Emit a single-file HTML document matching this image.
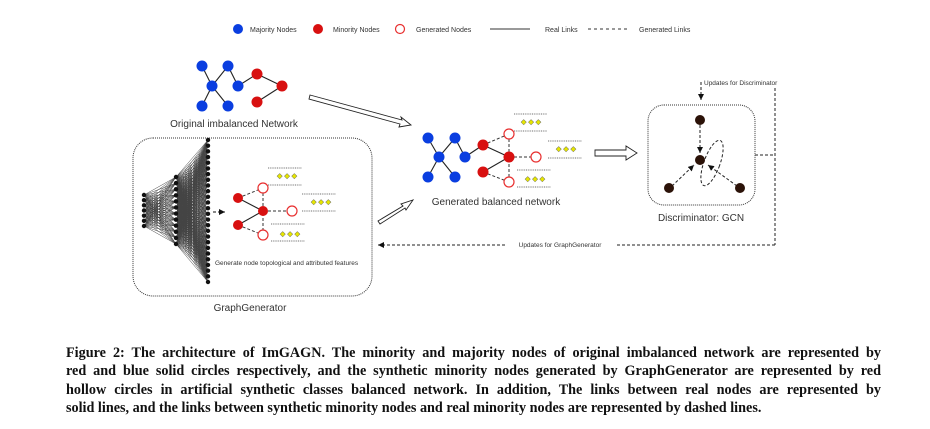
<!DOCTYPE html>
<html><head><meta charset="utf-8"><style>
body{margin:0;background:#fff;width:930px;height:429px;overflow:hidden;position:relative}
svg{position:absolute;left:0;top:0}
.cap{position:absolute;left:66px;width:815px;top:344px;font-family:"Liberation Serif",serif;font-weight:bold;font-size:14.2px;color:#111}
.cap div{height:18.3px;line-height:18.3px;text-align:justify;text-align-last:justify;white-space:nowrap}
</style></head><body>
<svg id="s" width="930" height="429" font-family="Liberation Sans, sans-serif">
<defs><marker id="ah" markerWidth="8" markerHeight="8" refX="6" refY="3" orient="auto"><path d="M0,0 L6,3 L0,6 z" fill="#111"/></marker></defs>
<g font-size="7" fill="#333">
<circle cx="238" cy="29" r="5" fill="#0a3ee0"/><text x="250" y="32">Majority Nodes</text>
<circle cx="318" cy="29" r="5" fill="#d81010"/><text x="333" y="32">Minority Nodes</text>
<circle cx="400" cy="29" r="4.5" fill="#fff" stroke="#e83030" stroke-width="1.2"/><text x="416" y="32">Generated Nodes</text>
<line x1="490" y1="29" x2="530" y2="29" stroke="#333" stroke-width="1"/><text x="545" y="32">Real Links</text>
<line x1="588" y1="29" x2="628" y2="29" stroke="#333" stroke-dasharray="3,3"/><text x="639" y="32">Generated Links</text>
</g>
<g stroke="#222" stroke-width="1.1">
<line x1="202" y1="66" x2="212" y2="86"/><line x1="228" y1="66" x2="212" y2="86"/><line x1="228" y1="66" x2="238" y2="86"/>
<line x1="212" y1="86" x2="202" y2="106"/><line x1="212" y1="86" x2="228" y2="106"/><line x1="238" y1="86" x2="257" y2="74"/>
<line x1="257" y1="74" x2="282" y2="86"/><line x1="282" y1="86" x2="257" y2="102"/>
</g>
<g fill="#0a3ee0"><circle cx="202" cy="66" r="5.5"/><circle cx="228" cy="66" r="5.5"/><circle cx="212" cy="86" r="5.5"/><circle cx="238" cy="86" r="5.5"/><circle cx="202" cy="106" r="5.5"/><circle cx="228" cy="106" r="5.5"/></g>
<g fill="#d81010"><circle cx="257" cy="74" r="5.5"/><circle cx="282" cy="86" r="5.5"/><circle cx="257" cy="102" r="5.5"/></g>
<text x="234" y="127" font-size="10" text-anchor="middle" fill="#333">Original imbalanced Network</text>
<g fill="#fff" stroke="#222" stroke-width="0.9">
<path d="M310,95 L402,120 L401,117 L411,125 L399,127 L400,124 L309,99 z"/>
<path d="M378,221 L403,206 L401,204 L413,200 L406,210 L405,208 L380,224 z"/>
<path d="M595,150 L626,150 L626,146 L637,153 L626,160 L626,156 L595,156 z"/>
</g>
<rect x="133" y="138" width="239" height="158" rx="20" fill="none" stroke="#333" stroke-dasharray="1,1"/>
<g id="nn" stroke="#444" stroke-width="0.5"></g>
<g id="nnn" fill="#111"></g>
<line x1="213" y1="212" x2="225" y2="212" stroke="#111" stroke-dasharray="3,2" marker-end="url(#ah)"/>
<g stroke="#222" stroke-width="1.1"><line x1="238" y1="198" x2="263" y2="211"/><line x1="238" y1="225" x2="263" y2="211"/></g>
<g stroke="#333" stroke-dasharray="3,2"><line x1="238" y1="198" x2="263" y2="188"/><line x1="238" y1="225" x2="263" y2="235"/><line x1="263" y1="211" x2="292" y2="211"/><line x1="263" y1="188" x2="263" y2="235"/></g>
<g fill="#d81010"><circle cx="238" cy="198" r="5"/><circle cx="263" cy="211" r="5"/><circle cx="238" cy="225" r="5"/></g>
<g fill="#fff" stroke="#e83030" stroke-width="1.2"><circle cx="263" cy="188" r="5"/><circle cx="292" cy="211" r="5"/><circle cx="263" cy="235" r="5"/></g>
<g stroke="#444" stroke-width="0.8" stroke-dasharray="1,0.8">
<line x1="268" y1="168" x2="302" y2="168"/><line x1="268" y1="185" x2="302" y2="185"/>
<line x1="302" y1="194" x2="336" y2="194"/><line x1="302" y1="211" x2="336" y2="211"/>
<line x1="271" y1="224" x2="305" y2="224"/><line x1="271" y1="241" x2="305" y2="241"/>
</g>
<g fill="#e6e600" stroke="#666" stroke-width="0.4" font-size="7">
<text x="277" y="178">◆ ◆ ◆</text><text x="311" y="204">◆ ◆ ◆</text><text x="280" y="236">◆ ◆ ◆</text>
</g>
<text x="215" y="265" font-size="6.5" fill="#333">Generate node topological and attributed features</text>
<text x="250" y="311" font-size="10" text-anchor="middle" fill="#333">GraphGenerator</text>
<g stroke="#222" stroke-width="1.1">
<line x1="428" y1="138" x2="439" y2="157"/><line x1="455" y1="138" x2="439" y2="157"/><line x1="455" y1="138" x2="465" y2="157"/>
<line x1="439" y1="157" x2="428" y2="177"/><line x1="439" y1="157" x2="455" y2="177"/><line x1="465" y1="157" x2="483" y2="145"/>
<line x1="483" y1="145" x2="509" y2="157"/><line x1="509" y1="157" x2="483" y2="172"/>
</g>
<g stroke="#333" stroke-dasharray="3,2"><line x1="483" y1="145" x2="509" y2="134"/><line x1="483" y1="172" x2="509" y2="182"/><line x1="509" y1="157" x2="536" y2="157"/><line x1="509" y1="134" x2="509" y2="182"/></g>
<g fill="#0a3ee0"><circle cx="428" cy="138" r="5.5"/><circle cx="455" cy="138" r="5.5"/><circle cx="439" cy="157" r="5.5"/><circle cx="465" cy="157" r="5.5"/><circle cx="428" cy="177" r="5.5"/><circle cx="455" cy="177" r="5.5"/></g>
<g fill="#d81010"><circle cx="483" cy="145" r="5.5"/><circle cx="509" cy="157" r="5.5"/><circle cx="483" cy="172" r="5.5"/></g>
<g fill="#fff" stroke="#e83030" stroke-width="1.2"><circle cx="509" cy="134" r="5"/><circle cx="536" cy="157" r="5"/><circle cx="509" cy="182" r="5"/></g>
<g stroke="#444" stroke-width="0.8" stroke-dasharray="1,0.8">
<line x1="514" y1="114" x2="547" y2="114"/><line x1="514" y1="131" x2="547" y2="131"/>
<line x1="548" y1="141" x2="582" y2="141"/><line x1="548" y1="158" x2="582" y2="158"/>
<line x1="517" y1="170" x2="551" y2="170"/><line x1="517" y1="187" x2="551" y2="187"/>
</g>
<g fill="#e6e600" stroke="#666" stroke-width="0.4" font-size="7">
<text x="521" y="124">◆ ◆ ◆</text><text x="556" y="151">◆ ◆ ◆</text><text x="525" y="181">◆ ◆ ◆</text>
</g>
<text x="496" y="205" font-size="10" text-anchor="middle" fill="#333">Generated balanced network</text>
<rect x="648" y="105" width="107" height="100" rx="16" fill="none" stroke="#333" stroke-dasharray="1,1"/>
<g stroke="#222" stroke-dasharray="3,2" fill="none">
<line x1="700" y1="125" x2="700" y2="153" marker-end="url(#ah)"/>
<line x1="672" y1="186" x2="694" y2="165" marker-end="url(#ah)"/>
<line x1="737" y1="186" x2="708" y2="165" marker-end="url(#ah)"/>
<ellipse cx="712" cy="163" rx="8" ry="24" transform="rotate(20 712 163)"/>
</g>
<g fill="#2b1208"><circle cx="700" cy="120" r="5"/><circle cx="700" cy="160" r="5"/><circle cx="669" cy="188" r="5"/><circle cx="740" cy="188" r="5"/></g>
<text x="701" y="221" font-size="10" text-anchor="middle" fill="#333">Discriminator: GCN</text>
<g stroke="#222" stroke-dasharray="3,2" fill="none">
<line x1="701" y1="82" x2="701" y2="100" marker-end="url(#ah)"/>
<line x1="755" y1="155" x2="775" y2="155"/>
<line x1="775" y1="88" x2="775" y2="245"/>
<line x1="775" y1="245" x2="616" y2="245"/>
<line x1="505" y1="245" x2="378" y2="245" marker-end="url(#ah)"/>
</g>
<text x="704" y="85" font-size="6.5" fill="#333">Updates for Discriminator</text>
<text x="560" y="247" font-size="6.5" text-anchor="middle" fill="#333">Updates for GraphGenerator</text>
</svg>
<div class="cap">
<div>Figure 2: The architecture of ImGAGN. The minority and majority nodes of original imbalanced network are represented by</div>
<div>red and blue solid circles respectively, and the synthetic minority nodes generated by GraphGenerator are represented by red</div>
<div>hollow circles in artificial synthetic classes balanced network. In addition, The links between real nodes are represented by</div>
<div style="text-align-last:left">solid lines, and the links between synthetic minority nodes and real minority nodes are represented by dashed lines.</div>
</div>
<script>
var ns="http://www.w3.org/2000/svg",g=document.getElementById("nn"),gn=document.getElementById("nnn");
function L(x,y0,y1,n){var a=[];for(var i=0;i<n;i++)a.push([x,y0+(y1-y0)*i/(n-1)]);return a}
var A=L(144,195,226,7),B=L(176,177,244,12),C=L(208,140,282,26);
function conn(P,Q){P.forEach(function(p){Q.forEach(function(q){var l=document.createElementNS(ns,"line");l.setAttribute("x1",p[0]);l.setAttribute("y1",p[1]);l.setAttribute("x2",q[0]);l.setAttribute("y2",q[1]);g.appendChild(l)})})}
conn(A,B);conn(B,C);
[A,B,C].forEach(function(P){P.forEach(function(p){var c=document.createElementNS(ns,"circle");c.setAttribute("cx",p[0]);c.setAttribute("cy",p[1]);c.setAttribute("r",2.2);gn.appendChild(c)})});
</script>
</body></html>
